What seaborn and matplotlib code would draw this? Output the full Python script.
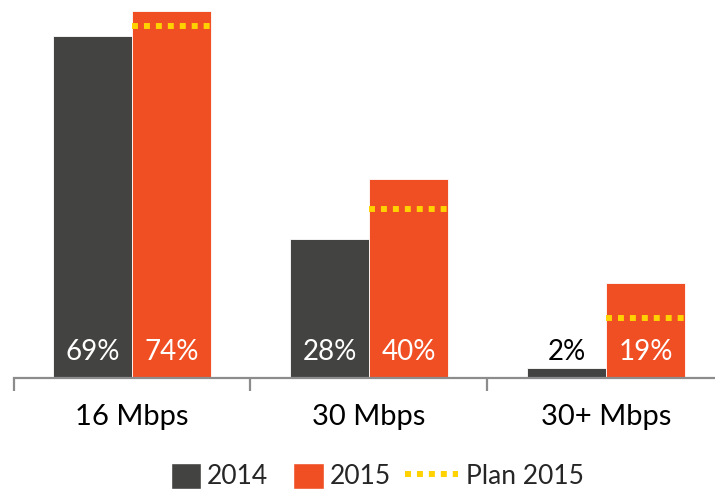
import matplotlib
matplotlib.use("Agg")
import matplotlib.pyplot as plt
import seaborn as sns
import pandas as pd
from matplotlib.patches import Rectangle
from matplotlib.lines import Line2D

categories = ["16 Mbps", "30 Mbps", "30+ Mbps"]
years = ["2014", "2015"]
values_2014 = [69, 28, 2]
values_2015 = [74, 40, 19]
plan_2015 = [71, 34, 12]

c2014 = "#434341"
c2015 = "#F04E23"
cplan = "#FFD200"

sns.set_theme(style="white")
plt.rcParams['font.family'] = ['Lato', 'DejaVu Sans']

df = pd.DataFrame({
    "cat": categories * 2,
    "year": ["2014"] * 3 + ["2015"] * 3,
    "val": values_2014 + values_2015,
})

fig = plt.figure(figsize=(7.15, 4.91), dpi=100)
ax = fig.add_axes([13.5 / 715, 113.5 / 491, 1 - 13.5 / 715, 377.5 / 491])

sns.barplot(data=df, x="cat", y="val", hue="year", order=categories,
            hue_order=years, palette=[c2014, c2015], width=0.667,
            edgecolor="white", linewidth=0.6, saturation=1, ax=ax,
            legend=False, errorbar=None)

# labels and plan lines
bars = [p for p in ax.patches if isinstance(p, Rectangle) and p.get_height() > 0]
bars_2014 = sorted(bars[:3], key=lambda p: p.get_x())
bars_2015 = sorted(bars[3:6], key=lambda p: p.get_x())
label_y = 5.2
for p, v in zip(bars_2014, values_2014):
    col = "white" if v > 8 else "black"
    ax.text(p.get_x() + p.get_width() / 2, label_y, f"{v}%", ha="center",
            va="center", color=col, fontsize=20)
for p, v, pl in zip(bars_2015, values_2015, plan_2015):
    col = "white" if v > 8 else "black"
    ax.text(p.get_x() + p.get_width() / 2, label_y, f"{v}%", ha="center",
            va="center", color=col, fontsize=20)
    ax.hlines(pl, p.get_x(), p.get_x() + p.get_width(), colors=cplan,
              linewidth=4.3, linestyles=(0, (1, 1)), capstyle="butt")

for s in ["top", "right", "left"]:
    ax.spines[s].set_visible(False)
ax.spines["bottom"].set_color("#8c8c8c")
ax.spines["bottom"].set_linewidth(1.6)
ax.set_yticks([])
ax.set_xlabel("")
ax.set_ylabel("")
ax.set_xticks(range(3))
ax.set_xticklabels(categories, fontsize=21, color="black")
ax.tick_params(axis="x", which="major", length=0, pad=19)
ax.set_xticks([-0.5, 0.5, 1.5, 2.5], minor=True)
ax.tick_params(axis="x", which="minor", length=9, width=1.6, color="#8c8c8c",
               direction="out", bottom=True)
ax.set_ylim(0, 76.2)
ax.set_xlim(-0.5, 2.46)

# legends
fs = 19
bar_handles = [Rectangle((0, 0), 1, 1, facecolor=c2014),
               Rectangle((0, 0), 1, 1, facecolor=c2015)]
legA = fig.legend(bar_handles, years, loc="center left",
                  bbox_to_anchor=(171 / 715, 1 - 476 / 491), ncol=2,
                  frameon=False, fontsize=fs, handlelength=1.14,
                  handleheight=1.14, handletextpad=0.23, columnspacing=0.95,
                  borderpad=0, borderaxespad=0)
plan_handle = Line2D([0], [0], color=cplan, linewidth=4.3,
                     linestyle=(0, (1, 1)), dash_capstyle="butt")
legB = fig.legend([plan_handle], ["Plan 2015"], loc="center left",
                  bbox_to_anchor=(405 / 715, 1 - 476 / 491), frameon=False,
                  fontsize=fs, handlelength=2.0, handletextpad=0.3,
                  borderpad=0, borderaxespad=0)

fig.savefig("out.png", dpi=100)
